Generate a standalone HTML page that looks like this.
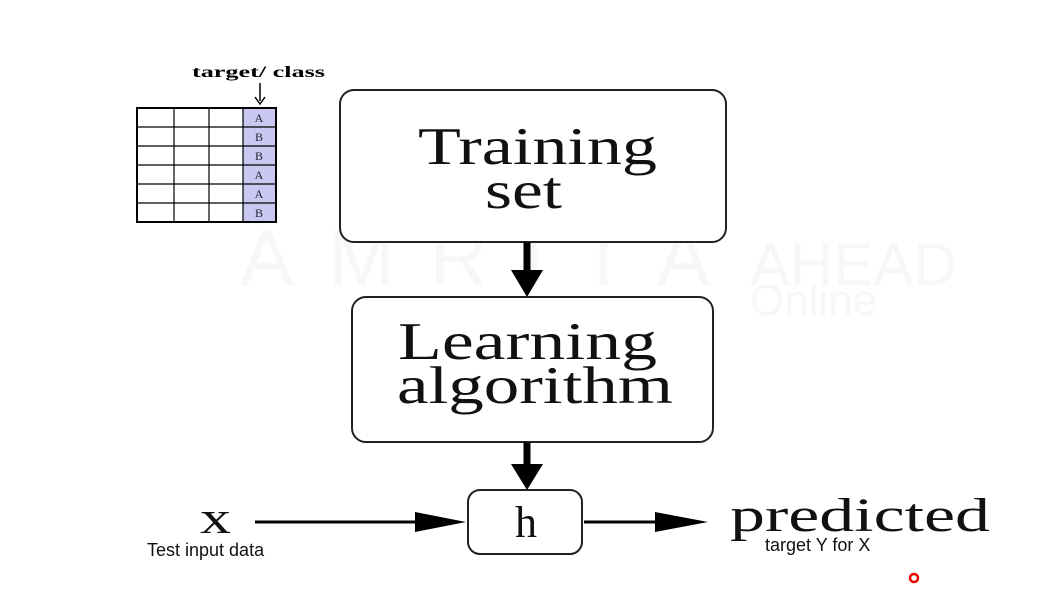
<!DOCTYPE html>
<html><head><meta charset="utf-8"><style>html,body{margin:0;padding:0;background:#fff;}svg{display:block}</style></head>
<body>
<svg width="1042" height="613" viewBox="0 0 1042 613" xmlns="http://www.w3.org/2000/svg">
<rect width="1042" height="613" fill="#fff"/>
<!-- watermark -->
<text x="240" y="285" font-family="Liberation Sans, sans-serif" font-size="80" fill="#f7f7f7" textLength="470" lengthAdjust="spacing">AMRITA</text>
<text x="750" y="285" font-family="Liberation Sans, sans-serif" font-size="60" fill="#f7f7f7">AHEAD</text>
<text x="750" y="315" font-family="Liberation Sans, sans-serif" font-size="44" fill="#f7f7f7">Online</text>
<!-- table -->
<text x="192" y="77" font-family="Liberation Serif, serif" font-weight="bold" font-size="16" textLength="133" lengthAdjust="spacingAndGlyphs">target/ class</text>
<line x1="260" y1="83" x2="260" y2="101" stroke="#000" stroke-width="1.5"/>
<path d="M255,97 L260,104 L265,97" fill="none" stroke="#000" stroke-width="1.5"/>
<rect x="243" y="108" width="33" height="114" fill="#c8c8f0"/>
<g stroke="#000" stroke-width="1.2" fill="none">
<rect x="137" y="108" width="139" height="114" stroke-width="2"/>
<line x1="174" y1="108" x2="174" y2="222"/><line x1="209" y1="108" x2="209" y2="222"/><line x1="243" y1="108" x2="243" y2="222"/>
<line x1="137" y1="127" x2="276" y2="127"/><line x1="137" y1="146" x2="276" y2="146"/><line x1="137" y1="165" x2="276" y2="165"/><line x1="137" y1="184" x2="276" y2="184"/><line x1="137" y1="203" x2="276" y2="203"/>
</g>
<g font-family="Liberation Serif, serif" font-size="12" fill="#223" text-anchor="middle">
<text x="259" y="122">A</text><text x="259" y="141">B</text><text x="259" y="160">B</text><text x="259" y="179">A</text><text x="259" y="198">A</text><text x="259" y="217">B</text>
</g>
<!-- boxes -->
<g fill="#fff" stroke="#222" stroke-width="2">
<rect x="340" y="90" width="386" height="152" rx="14"/>
<rect x="352" y="297" width="361" height="145" rx="14"/>
<rect x="468" y="490" width="114" height="64" rx="12"/>
</g>
<g font-family="Liberation Serif, serif" fill="#111">
<text x="418" y="164" font-size="53" textLength="239" lengthAdjust="spacingAndGlyphs">Training</text>
<text x="485" y="208" font-size="53" textLength="77" lengthAdjust="spacingAndGlyphs">set</text>
<text x="398" y="359" font-size="53" textLength="259" lengthAdjust="spacingAndGlyphs">Learning</text>
<text x="397" y="403" font-size="53" textLength="276" lengthAdjust="spacingAndGlyphs">algorithm</text>
<text x="526" y="537" font-size="44" text-anchor="middle">h</text>
<text x="200" y="533" font-size="46" textLength="31" lengthAdjust="spacingAndGlyphs">x</text>
<text x="730" y="531" font-size="48" textLength="260" lengthAdjust="spacingAndGlyphs">predicted</text>
</g>
<!-- arrows -->
<g fill="#000" stroke="#000">
<line x1="527" y1="242" x2="527" y2="272" stroke-width="7"/>
<path d="M511,270 L543,270 L527,297 Z" stroke="none"/>
<line x1="527" y1="442" x2="527" y2="466" stroke-width="7"/>
<path d="M511,464 L543,464 L527,490 Z" stroke="none"/>
<line x1="255" y1="522" x2="420" y2="522" stroke-width="3"/>
<path d="M415,512 L466,522 L415,532 Z" stroke="none"/>
<line x1="584" y1="522" x2="660" y2="522" stroke-width="3"/>
<path d="M655,512 L708,522 L655,532 Z" stroke="none"/>
</g>
<g font-family="Liberation Sans, sans-serif" font-size="18" fill="#111">
<text x="147" y="556">Test input data</text>
<text x="765" y="551">target Y for X</text>
</g>
<circle cx="914" cy="578" r="4" fill="none" stroke="#e00" stroke-width="2.5"/>
</svg>
</body></html>
